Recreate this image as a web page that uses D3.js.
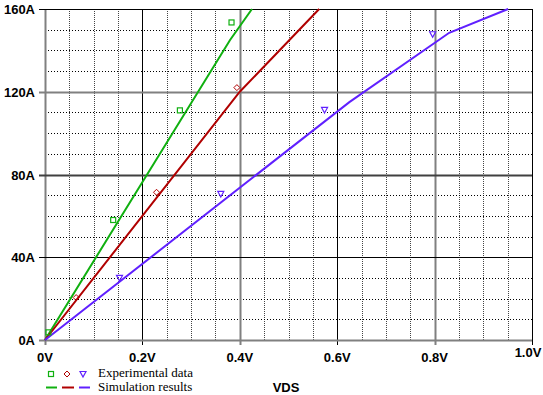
<!DOCTYPE html>
<html>
<head>
<meta charset="utf-8">
<script src="https://cdn.jsdelivr.net/npm/d3@7"></script>
<style>
  body { margin: 0; background: #fff; }
  svg { display: block; }
</style>
</head>
<body>
<div id="chart"></div>
<script>
const width = 543;
const height = 395;

// simulated curves (V, A)
const simGreen = [[0, 0], [0.38, 145], [0.425, 160]];
const simRed = [[0, 0], [0.4, 120], [0.563, 160]];
const simBlue = [[0, 0], [0.625, 115], [0.83, 148.5], [0.951, 160]];

// measured points (V, A)
const expGreen = [[0.007, 3.7], [0.14, 58], [0.277, 111], [0.383, 153.5]];
const expRed = [[0.064, 20.5], [0.229, 71.4], [0.394, 122]];
const expBlue = [[0.153, 30], [0.361, 70.6], [0.574, 111.2], [0.796, 147.8]];

const xTicks = [0, 0.2, 0.4, 0.6, 0.8, 1.0];
const xTickLabels = ["0V", "0.2V", "0.4V", "0.6V", "0.8V", "1.0V"];
const yTicks = [0, 40, 80, 120, 160];
const yTickLabels = ["0A", "40A", "80A", "120A", "160A"];

const colors = {green: "#10b010", red: "#b00000", blue: "#6020ff"};

const x = d3.scaleLinear().domain([0, 1]).range([45, 532]);
const y = d3.scaleLinear().domain([0, 160]).range([340, 9]);

const svg = d3.select("#chart").append("svg")
  .attr("width", width).attr("height", height);

// minor grid
const minorX = d3.range(0, 1.0001, 0.05).filter(v => Math.abs(v * 5 - Math.round(v * 5)) > 1e-6);
const minorY = d3.range(0, 160, 10).filter(v => v % 40 != 0);

svg.selectAll(".minx").data(minorX).enter().append("line")
  .attr("x1", d => Math.round(x(d)) + 0.5).attr("x2", d => Math.round(x(d)) + 0.5)
  .attr("y1", y(160)).attr("y2", y(0))
  .attr("stroke", "#444").attr("stroke-dasharray", "1,1");

svg.selectAll(".miny").data(minorY).enter().append("line")
  .attr("y1", d => Math.round(y(d)) + 0.5).attr("y2", d => Math.round(y(d)) + 0.5)
  .attr("x1", x(0)).attr("x2", x(1))
  .attr("stroke", "#000").attr("stroke-dasharray", "1,2");

// major grid: alternate black / gray
svg.selectAll(".majx").data(xTicks).enter().append("line")
  .attr("x1", d => Math.round(x(d)) + 0.5).attr("x2", d => Math.round(x(d)) + 0.5)
  .attr("y1", y(160)).attr("y2", y(0) + 5)
  .attr("stroke", (d, i) => i % 2 == 0 ? "#808080" : "#000")
  .attr("stroke-width", (d, i) => i % 2 == 0 ? 2 : 1);

const yGridColor = ["#808080", "#000", "#404040", "#808080", "#000"];
const yGridWidth = [2, 1, 2, 2, 1];
svg.selectAll(".majy").data(yTicks).enter().append("line")
  .attr("y1", d => Math.round(y(d)) + 0.5).attr("y2", d => Math.round(y(d)) + 0.5)
  .attr("x1", x(0) - 6).attr("x2", x(1))
  .attr("stroke", (d, i) => yGridColor[i])
  .attr("stroke-width", (d, i) => yGridWidth[i]);

// tick labels
svg.selectAll(".xl").data(xTicks).enter().append("text")
  .attr("x", (d, i) => i == 5 ? x(d) - 4 : x(d))
  .attr("y", (d, i) => i == 5 ? 357 : 362)
  .attr("text-anchor", "middle")
  .attr("font-family", "Liberation Sans, Arial, sans-serif")
  .attr("font-weight", "bold").attr("font-size", 13)
  .text((d, i) => xTickLabels[i]);

svg.selectAll(".yl").data(yTicks).enter().append("text")
  .attr("x", 35).attr("y", d => y(d) + 5)
  .attr("text-anchor", "end")
  .attr("font-family", "Liberation Sans, Arial, sans-serif")
  .attr("font-weight", "bold").attr("font-size", 13)
  .text((d, i) => yTickLabels[i]);

// simulation lines
const line = d3.line().x(d => x(d[0])).y(d => y(d[1]));
[[simGreen, colors.green], [simRed, colors.red], [simBlue, colors.blue]].forEach(s => {
  svg.append("path").datum(s[0])
    .attr("d", line)
    .attr("fill", "none").attr("stroke", s[1]).attr("stroke-width", 2);
});

// markers
function square(g, cx, cy, c) {
  g.append("rect").attr("x", cx - 2.5).attr("y", cy - 2.5).attr("width", 5).attr("height", 5)
    .attr("fill", "none").attr("stroke", c).attr("stroke-width", 1.2);
}
function diamond(g, cx, cy, c) {
  g.append("path").attr("d", `M${cx},${cy - 3}L${cx + 3},${cy}L${cx},${cy + 3}L${cx - 3},${cy}Z`)
    .attr("fill", "none").attr("stroke", c).attr("stroke-width", 1);
}
function triangle(g, cx, cy, c) {
  g.append("path").attr("d", `M${cx - 3},${cy - 2.5}L${cx + 3},${cy - 2.5}L${cx},${cy + 3}Z`)
    .attr("fill", "none").attr("stroke", c).attr("stroke-width", 1.2);
}

expGreen.forEach(d => square(svg, x(d[0]), y(d[1]), colors.green));
expRed.forEach(d => diamond(svg, x(d[0]), y(d[1]), colors.red));
expBlue.forEach(d => triangle(svg, x(d[0]), y(d[1]), colors.blue));

// legend
square(svg, 51, 374, colors.green);
diamond(svg, 67, 374, colors.red);
triangle(svg, 83, 374, colors.blue);
[[46, 57, colors.green], [62, 74, colors.red], [79, 90, colors.blue]].forEach(l => {
  svg.append("line").attr("x1", l[0]).attr("x2", l[1]).attr("y1", 387.5).attr("y2", 387.5)
    .attr("stroke", l[2]).attr("stroke-width", 2);
});
svg.append("text").attr("x", 98).attr("y", 377)
  .attr("font-family", "Liberation Serif, Times New Roman, serif").attr("font-size", 13)
  .text("Experimental data");
svg.append("text").attr("x", 98).attr("y", 391)
  .attr("font-family", "Liberation Serif, Times New Roman, serif").attr("font-size", 13)
  .text("Simulation results");

svg.append("text").attr("x", 286).attr("y", 392)
  .attr("text-anchor", "middle")
  .attr("font-family", "Liberation Sans, Arial, sans-serif")
  .attr("font-weight", "bold").attr("font-size", 13)
  .text("VDS");
</script>
</body>
</html>
